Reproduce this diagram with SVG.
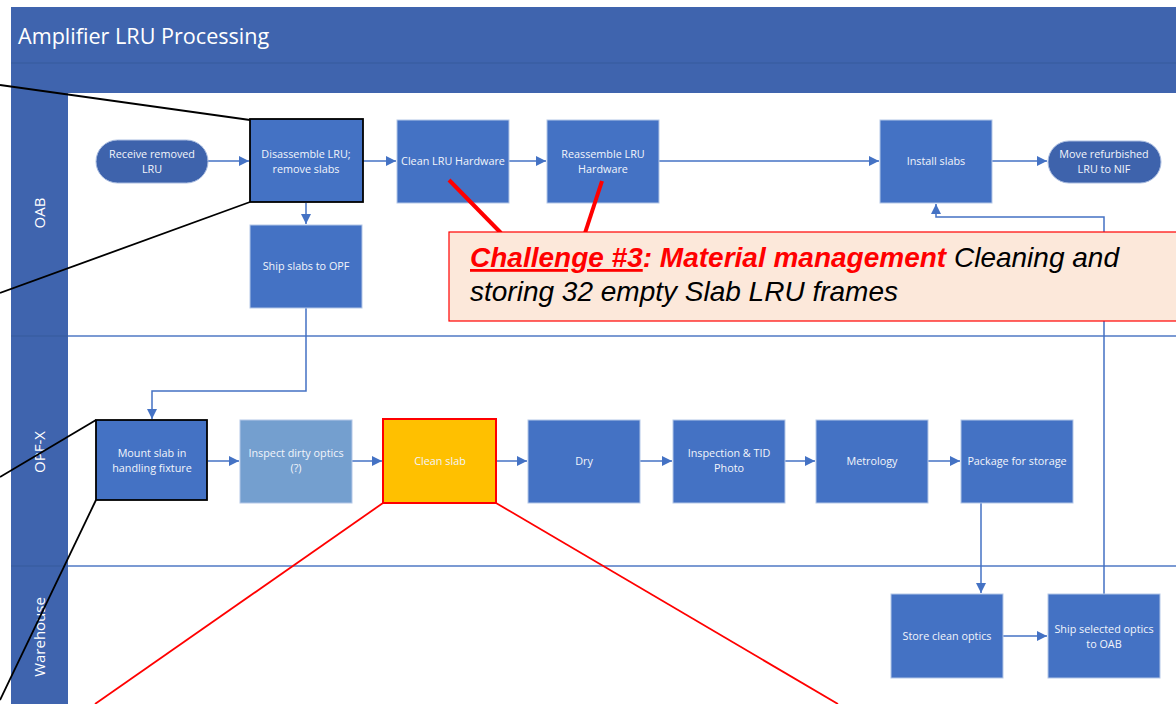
<svg xmlns="http://www.w3.org/2000/svg" width="1176" height="704" viewBox="0 0 1176 704">
<defs>
<style>
.hdr{fill:#3F64AE}
.sep{stroke:#365A9C;stroke-width:1.2}
.lane{stroke:#4F79C4;stroke-width:1.5}
.box{fill:#4472C4;stroke:#B4C7E7;stroke-width:1}
.pill{fill:#3E63AC;stroke:#A9BCE0;stroke-width:1}
.t{font-family:"Open Sans","Noto Sans","Liberation Sans",sans-serif;font-size:10.8px;fill:#F2F5FB;text-anchor:middle}
.lt{font-family:"Open Sans","Noto Sans","Liberation Sans",sans-serif;font-size:15px;fill:#FFFFFF;text-anchor:middle}
.c{fill:none;stroke:#4472C4;stroke-width:1.5}
.call{font-family:"Liberation Sans",Arial,sans-serif;font-size:28px;font-style:italic}
</style>
<marker id="ah" viewBox="0 0 10 10" refX="10" refY="5" markerWidth="10" markerHeight="10" markerUnits="userSpaceOnUse" orient="auto">
<path d="M0,0 L10,5 L0,10 z" fill="#4472C4"/>
</marker>
</defs>
<rect width="1176" height="704" fill="#FFFFFF"/>
<g id="pool">
<rect class="hdr" x="11" y="7" width="1165" height="86"/>
<line class="sep" x1="11" y1="63" x2="1176" y2="63"/>
<rect class="hdr" x="11" y="93" width="57" height="611"/>
<line class="sep" x1="11" y1="336" x2="68" y2="336"/>
<line class="sep" x1="11" y1="566" x2="68" y2="566"/>
<line class="lane" x1="68" y1="336" x2="1176" y2="336"/>
<line class="lane" x1="68" y1="566" x2="1176" y2="566"/>
<text x="18" y="44" font-family="'Open Sans','Noto Sans','Liberation Sans',sans-serif" font-size="21.6" fill="#FFFFFF">Amplifier LRU Processing</text>
<text class="lt" transform="translate(45,213) rotate(-90)">OAB</text>
<text class="lt" transform="translate(45,452) rotate(-90)">OPF-X</text>
<text class="lt" transform="translate(45,637) rotate(-90)">Warehouse</text>
</g>
<g id="connectors">
<line class="c" x1="208" y1="161" x2="249" y2="161" marker-end="url(#ah)"/>
<line class="c" x1="306" y1="203" x2="306" y2="224" marker-end="url(#ah)"/>
<line class="c" x1="363" y1="161" x2="396" y2="161" marker-end="url(#ah)"/>
<line class="c" x1="509" y1="161" x2="546" y2="161" marker-end="url(#ah)"/>
<line class="c" x1="659" y1="161" x2="879" y2="161" marker-end="url(#ah)"/>
<line class="c" x1="992" y1="161" x2="1047" y2="161" marker-end="url(#ah)"/>
<polyline class="c" points="306,308 306,391 152,391 152,419" marker-end="url(#ah)"/>
<line class="c" x1="208" y1="461" x2="239" y2="461" marker-end="url(#ah)"/>
<line class="c" x1="352" y1="461" x2="382" y2="461" marker-end="url(#ah)"/>
<line class="c" x1="497" y1="461" x2="527" y2="461" marker-end="url(#ah)"/>
<line class="c" x1="640" y1="461" x2="672" y2="461" marker-end="url(#ah)"/>
<line class="c" x1="785" y1="461" x2="815" y2="461" marker-end="url(#ah)"/>
<line class="c" x1="928" y1="461" x2="960" y2="461" marker-end="url(#ah)"/>
<line class="c" x1="981" y1="503" x2="981" y2="593" marker-end="url(#ah)"/>
<line class="c" x1="1003" y1="636" x2="1047" y2="636" marker-end="url(#ah)"/>
<polyline class="c" points="1104,594 1104,217 936,217 936,204" marker-end="url(#ah)"/>
</g>
<g id="n-receive"><rect class="pill" x="96" y="140" width="112" height="43" rx="21.5"/><text class="t" x="152" y="158">Receive removed</text><text class="t" x="152" y="173">LRU</text></g>
<g id="n-disassemble"><rect x="250" y="119" width="113" height="83" fill="#4472C4" stroke="#000" stroke-width="1.8"/><text class="t" x="306" y="158">Disassemble LRU;</text><text class="t" x="306" y="173">remove slabs</text></g>
<g id="n-ship-slabs"><rect class="box" x="250" y="225" width="112" height="83"/><text class="t" x="306" y="270">Ship slabs to OPF</text></g>
<g id="n-clean-lru"><rect class="box" x="397" y="120" width="112" height="83"/><text class="t" x="453" y="165">Clean LRU Hardware</text></g>
<g id="n-reassemble"><rect class="box" x="547" y="120" width="112" height="83"/><text class="t" x="603" y="158">Reassemble LRU</text><text class="t" x="603" y="173">Hardware</text></g>
<g id="n-install"><rect class="box" x="880" y="120" width="112" height="83"/><text class="t" x="936" y="165">Install slabs</text></g>
<g id="n-move"><rect class="pill" x="1048" y="141" width="113" height="42" rx="21"/><text class="t" x="1104" y="158">Move refurbished</text><text class="t" x="1104" y="173">LRU to NIF</text></g>
<g id="n-mount"><rect x="96" y="420" width="111" height="80" fill="#4472C4" stroke="#000" stroke-width="1.8"/><text class="t" x="152" y="457">Mount slab in</text><text class="t" x="152" y="472">handling fixture</text></g>
<g id="n-inspect-dirty"><rect x="240" y="420" width="112" height="83" fill="#749FCF" stroke="#B4C7E7" stroke-width="1"/><text class="t" x="296" y="457">Inspect dirty optics</text><text class="t" x="296" y="472">(?)</text></g>
<g id="n-clean-slab"><rect x="383" y="419" width="113" height="84" fill="#FFC000" stroke="#FF0000" stroke-width="2"/><text class="t" x="440" y="465">Clean slab</text></g>
<g id="n-dry"><rect class="box" x="528" y="420" width="112" height="83"/><text class="t" x="584" y="465">Dry</text></g>
<g id="n-inspection"><rect class="box" x="673" y="420" width="112" height="83"/><text class="t" x="729" y="457">Inspection &amp; TID</text><text class="t" x="729" y="472">Photo</text></g>
<g id="n-metrology"><rect class="box" x="816" y="420" width="112" height="83"/><text class="t" x="872" y="465">Metrology</text></g>
<g id="n-package"><rect class="box" x="961" y="420" width="112" height="83"/><text class="t" x="1017" y="465">Package for storage</text></g>
<g id="n-store"><rect class="box" x="891" y="594" width="112" height="84"/><text class="t" x="947" y="640">Store clean optics</text></g>
<g id="n-ship-optics"><rect class="box" x="1048" y="594" width="112" height="84"/><text class="t" x="1104" y="633">Ship selected optics</text><text class="t" x="1104" y="648">to OAB</text></g>
<g id="callout">
<line x1="449" y1="180" x2="501" y2="233" stroke="#FF0000" stroke-width="4"/>
<line x1="602" y1="181" x2="585" y2="233" stroke="#FF0000" stroke-width="4"/>
<rect x="449" y="232" width="740" height="89" fill="#FCE8DA" stroke="#FF0000" stroke-width="1.2"/>
<text class="call" x="470" y="267"><tspan fill="#FF0000" font-weight="bold" text-decoration="underline">Challenge #3</tspan><tspan fill="#FF0000" font-weight="bold">: Material management</tspan><tspan fill="#000"> Cleaning and</tspan></text>
<text class="call" x="470" y="301" fill="#000">storing 32 empty Slab LRU frames</text>
</g>
<g id="zoom-lines">
<line x1="0" y1="85" x2="250" y2="120" stroke="#000" stroke-width="1.8"/>
<line x1="0" y1="293" x2="250" y2="202" stroke="#000" stroke-width="1.8"/>
<line x1="0" y1="477" x2="96" y2="420" stroke="#000" stroke-width="1.8"/>
<line x1="0" y1="700" x2="96" y2="500" stroke="#000" stroke-width="1.8"/>
<line x1="383" y1="503" x2="95" y2="704" stroke="#FF0000" stroke-width="1.8"/>
<line x1="496" y1="503" x2="838" y2="704" stroke="#FF0000" stroke-width="1.8"/>
</g>
</svg>
